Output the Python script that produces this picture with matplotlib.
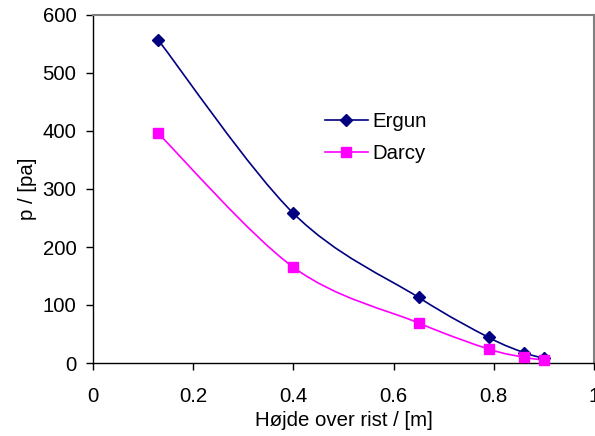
import matplotlib
matplotlib.use("Agg")
import matplotlib.pyplot as plt
import numpy as np
from matplotlib.path import Path
from matplotlib.patches import PathPatch
from matplotlib.lines import Line2D

plt.rcParams['font.family'] = ['Liberation Sans', 'DejaVu Sans']

# Data
height_m = [0.13, 0.40, 0.65, 0.79, 0.86, 0.90]
ergun_pa = [557, 258, 113, 44, 18, 8]
darcy_pa = [396, 165, 69, 24, 10, 5]
series_names = ["Ergun", "Darcy"]
x_ticks = [0, 0.2, 0.4, 0.6, 0.8, 1]
x_tick_labels = ["0", "0.2", "0.4", "0.6", "0.8", "1"]
y_ticks = [0, 100, 200, 300, 400, 500, 600]
x_label = "Højde over rist / [m]"
y_label = "p / [pa]"

FS = 14.7

fig = plt.figure(figsize=(5.95, 4.36), dpi=100)
ax = fig.add_axes([93/595, 73/436, (594-93)/595, (363-15)/436])


def smooth_path(xs, ys):
    pts = np.column_stack([xs, ys]).astype(float)
    n = len(pts)
    verts = [pts[0]]
    codes = [Path.MOVETO]
    for i in range(n - 1):
        p0 = pts[i - 1] if i > 0 else pts[i]
        p1 = pts[i]
        p2 = pts[i + 1]
        p3 = pts[i + 2] if i + 2 < n else pts[i + 1]
        c1 = p1 + (p2 - p0) / 6.0
        c2 = p2 - (p3 - p1) / 6.0
        verts += [c1, c2, p2]
        codes += [Path.CURVE4] * 3
    return Path(verts, codes)


styles = [
    dict(color="#000080", marker="D", ms=6),
    dict(color="#FF00FF", marker="s", ms=6.5),
]
handles = []
for ys, name, st in zip([ergun_pa, darcy_pa], series_names, styles):
    patch = PathPatch(smooth_path(height_m, ys), facecolor="none",
                      edgecolor=st["color"], lw=1.2, zorder=2)
    ax.add_patch(patch)
    ax.plot(height_m, ys, linestyle="none", marker=st["marker"],
            ms=st["ms"], color=st["color"], zorder=3, clip_on=False)
    handles.append(Line2D([], [], color=st["color"], lw=1.2,
                          marker=st["marker"], ms=st["ms"]))

ax.set_xlim(0, 1)
ax.set_ylim(0, 600)
ax.set_xticks(x_ticks)
ax.set_xticklabels(x_tick_labels)
ax.set_yticks(y_ticks)
ax.tick_params(direction="out", length=5, width=1, labelsize=FS, colors="black")
ax.tick_params(axis="x", pad=12)
ax.tick_params(axis="y", pad=7)

for s in ["top", "right"]:
    ax.spines[s].set_color("#808080")
    ax.spines[s].set_linewidth(1.5)
for s in ["left", "bottom"]:
    ax.spines[s].set_color("black")
    ax.spines[s].set_linewidth(1.0)

ax.set_xlabel(x_label, fontsize=FS, labelpad=4)
ax.set_ylabel(y_label, fontsize=FS, labelpad=4)

leg = ax.legend(handles, series_names, loc="upper left",
                bbox_to_anchor=(0.442, 0.75), frameon=False, fontsize=FS,
                handlelength=2.1, handletextpad=0.25, labelspacing=0.65,
                borderpad=0)

fig.savefig("out.png", dpi=100)
